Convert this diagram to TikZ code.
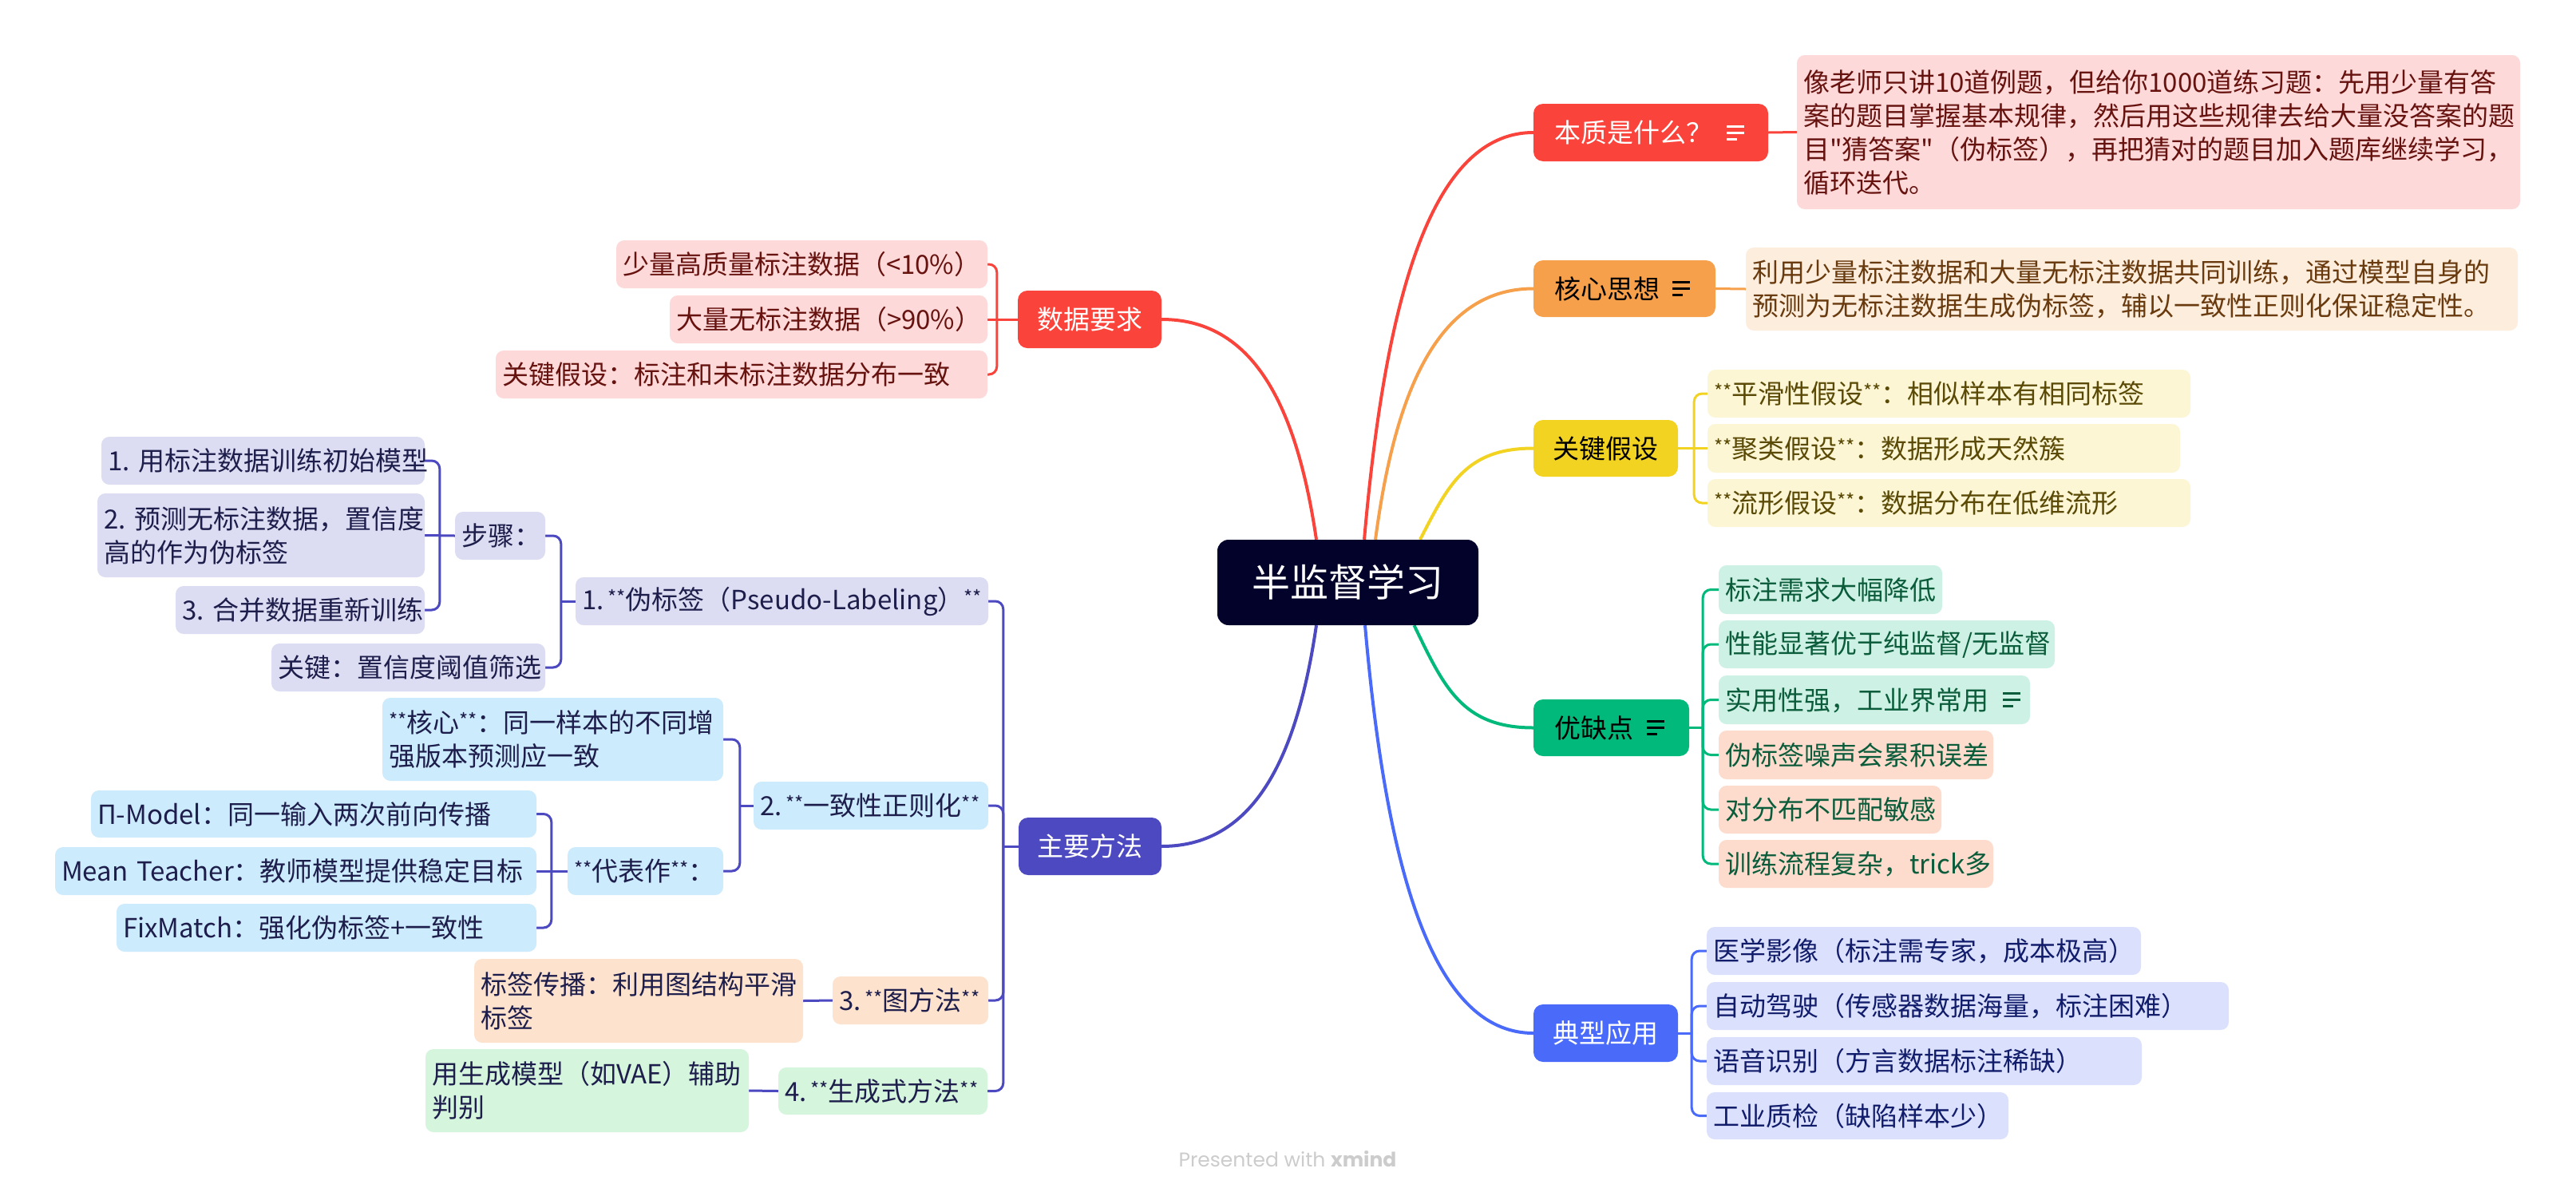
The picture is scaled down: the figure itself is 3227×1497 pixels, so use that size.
\documentclass[tikz,border=0pt]{standalone}
\usepackage{fontspec}
\setmainfont{Noto Sans CJK SC}
\newfontfamily\qfont{Noto Sans CJK SC}[Ligatures=TeXOff]
\newfontfamily\wmfont{Poppins}
\usetikzlibrary{calc}
\pgfdeclarelayer{background}
\pgfsetlayers{background,main}
\hyphenpenalty=10000
\exhyphenpenalty=10000
\definecolor{rootC}{HTML}{02022A}
\definecolor{redM}{HTML}{FA443B}
\definecolor{redL}{HTML}{FED9D9}
\definecolor{redT}{HTML}{66120F}
\definecolor{orM}{HTML}{F6A04C}
\definecolor{orL}{HTML}{FDEDDD}
\definecolor{orT}{HTML}{683A0E}
\definecolor{yeM}{HTML}{F2D322}
\definecolor{yeL}{HTML}{FCF6D4}
\definecolor{yeT}{HTML}{5A4A06}
\definecolor{grM}{HTML}{00B97A}
\definecolor{grL}{HTML}{CDF1E4}
\definecolor{grS}{HTML}{FDDBCD}
\definecolor{grT}{HTML}{0A5C3B}
\definecolor{blM}{HTML}{4A6BFA}
\definecolor{blL}{HTML}{DBE1FD}
\definecolor{blT}{HTML}{111C6B}
\definecolor{inM}{HTML}{4C49C1}
\definecolor{inA}{HTML}{DCDCF2}
\definecolor{inB}{HTML}{CCEBFC}
\definecolor{inC}{HTML}{FDE3CE}
\definecolor{inD}{HTML}{D5F5DC}
\definecolor{inT}{HTML}{1E1E4C}
\definecolor{wmC}{HTML}{CCCCCC}
\newcommand\stru{\vrule width0pt height.88em depth.12em\relax}
\newcommand\sstar{\raisebox{6pt}{\fontsize{24}{24}\selectfont **}}
\newcommand\sq{{\qfont"}}
% box: [pad]{name}{x1}{y1}{x2}{y2}{style}{text}
\newcommand\bx[8][8]{%
  \pgfmathsetmacro\bw{#5-#3-2*#1}%
  \pgfmathsetmacro\bh{#6-#4}%
  \pgfmathsetmacro\bcx{(#3+#5)/2}%
  \pgfmathsetmacro\bcy{(#4+#6)/2}%
  \node[#7, inner xsep=#1pt, text width=\bw pt, minimum height=\bh pt] (#2) at (\bcx,\bcy) {#8};}
\newcommand\ico[3]{%
  \draw[#3, line width=3pt] ([xshift=-#2pt, yshift=8pt]#1.east) -- ++(22,0)
     ([xshift=-#2pt]#1.east) -- ++(22,0)
     ([xshift=-#2pt, yshift=-8pt]#1.east) -- ++(13,0);}
\newcommand\mcurve[6]{%
  \draw[#1, line width=4pt] let \p1=(#2), \p2=(#3) in (\p1) .. controls ({\x1+#4*(\x2-\x1)},{\y1+#5*(\y2-\y1)}) and ({\x1+#6*(\x2-\x1)},{\y2}) .. (\p2);}
\begin{document}
\begin{tikzpicture}[x=1pt,y=-1pt,
  box/.style={rounded corners=10pt, inner ysep=0pt, align=left, font=\fontsize{33}{42}\selectfont},
  topic/.style={rounded corners=12pt, inner ysep=0pt, align=left, font=\fontsize{33}{42}\selectfont},
  redbox/.style={box, fill=redL, text=redT},
  orbox/.style={box, fill=orL, text=orT},
  yebox/.style={box, fill=yeL, text=yeT},
  grbox/.style={box, fill=grL, text=grT},
  gsbox/.style={box, fill=grS, text=grT},
  blbox/.style={box, fill=blL, text=blT},
  inAbox/.style={box, fill=inA, text=inT},
  inBbox/.style={box, fill=inB, text=inT},
  inCbox/.style={box, fill=inC, text=inT},
  inDbox/.style={box, fill=inD, text=inT},
  subline/.style={line width=3pt, rounded corners=10pt},
  ]
\useasboundingbox (0,0) rectangle (3227,1497);
\begin{pgfonlayer}{background}
\fill[white] (0,0) rectangle (3227,1497);
\end{pgfonlayer}

% root
\node[fill=rootC, text=white, rounded corners=14pt, inner sep=0pt, minimum width=327pt, minimum height=107pt, font=\fontsize{48}{58}\selectfont] (root) at (1688.5,729.5) {\stru 半监督学习};

% main topics
\bx[26]{ess}{1921}{130}{2215}{202}{topic, fill=redM, text=white}{\stru 本质是什么？}
\bx[26]{core}{1921}{326}{2149}{397}{topic, fill=orM, text=black}{\stru 核心思想}
\bx[24]{assume}{1921}{526}{2102}{597}{topic, fill=yeM, text=black}{\stru 关键假设}
\bx[26]{pros}{1921}{876}{2116}{947}{topic, fill=grM, text=black}{\stru 优缺点}
\bx[24]{app}{1921}{1258}{2102}{1330}{topic, fill=blM, text=white}{\stru 典型应用}
\bx[24]{data}{1275}{364}{1455}{436}{topic, fill=redM, text=white}{\stru 数据要求}
\bx[23]{meth}{1276}{1024}{1455}{1096}{topic, fill=inM, text=white}{\stru 主要方法}
\ico{ess}{52}{white}
\ico{core}{54}{black}
\ico{pros}{53}{black}

% right side children
\bx{essd}{2251}{69}{3157}{262}{redbox}{\stru 像老师只讲10道例题，但给你1000道练习题：先用少量有答\\\stru 案的题目掌握基本规律，然后用这些规律去给大量没答案的题\\\stru 目\sq 猜答案\sq（伪标签），再把猜对的题目加入题库继续学习，\\\stru 循环迭代。}
\bx{cored}{2187}{310}{3154}{414}{orbox}{\stru 利用少量标注数据和大量无标注数据共同训练，通过模型自身的\\\stru 预测为无标注数据生成伪标签，辅以一致性正则化保证稳定性。}
\bx{a1}{2139}{463}{2744}{523}{yebox}{\stru \sstar 平滑性假设\sstar：相似样本有相同标签}
\bx{a2}{2139}{531}{2731}{592}{yebox}{\stru \sstar 聚类假设\sstar：数据形成天然簇}
\bx{a3}{2139}{600}{2744}{660}{yebox}{\stru \sstar 流形假设\sstar：数据分布在低维流形}
\bx{p1}{2153}{708}{2433}{769}{grbox}{\stru 标注需求大幅降低}
\bx{p2}{2153}{777}{2574}{837}{grbox}{\stru 性能显著优于纯监督/无监督}
\bx{p3}{2153}{846}{2543}{907}{grbox}{\stru 实用性强，工业界常用}
\bx{p4}{2153}{915}{2497}{976}{gsbox}{\stru 伪标签噪声会累积误差}
\bx{p5}{2153}{984}{2432}{1044}{gsbox}{\stru 对分布不匹配敏感}
\bx{p6}{2153}{1052}{2497}{1112}{gsbox}{\stru 训练流程复杂，trick多}
\ico{p3}{34}{grT}
\bx{t1}{2138}{1161}{2682}{1221}{blbox}{\stru 医学影像（标注需专家，成本极高）}
\bx{t2}{2138}{1230}{2792}{1290}{blbox}{\stru 自动驾驶（传感器数据海量，标注困难）}
\bx{t3}{2138}{1299}{2683}{1359}{blbox}{\stru 语音识别（方言数据标注稀缺）}
\bx{t4}{2138}{1368}{2516}{1427}{blbox}{\stru 工业质检（缺陷样本少）}

% left side children
\bx{d1}{772}{301}{1237}{361}{redbox}{\stru 少量高质量标注数据（<10\%）}
\bx{d2}{839}{370}{1237}{430}{redbox}{\stru 大量无标注数据（>90\%）}
\bx{d3}{621}{439}{1237}{499}{redbox}{\stru 关键假设：标注和未标注数据分布一致}

\bx{m1}{721}{723}{1238}{783}{inAbox}{\stru 1.\hspace{5pt}\sstar 伪标签（Pseudo-Labeling）\sstar}
\bx{m1s}{570}{641}{683}{701}{inAbox}{\stru 步骤：}
\bx{m1k}{340}{806}{683}{866}{inAbox}{\stru 关键：置信度阈值筛选}
\bx{s1}{127}{547}{532}{607}{inAbox}{\stru 1.~用标注数据训练初始模型}
\bx{s2}{122}{618}{532}{723}{inAbox}{\stru 2.~预测无标注数据，置信度\\\stru 高的作为伪标签}
\bx{s3}{220}{734}{532}{794}{inAbox}{\stru 3.~合并数据重新训练}
\bx{m2}{944}{979}{1238}{1039}{inBbox}{\stru 2.\hspace{5pt}\sstar 一致性正则化\sstar}
\bx{m2c}{479}{874}{906}{978}{inBbox}{\stru \sstar 核心\sstar：同一样本的不同增\\\stru 强版本预测应一致}
\bx{m2r}{711}{1061}{906}{1121}{inBbox}{\stru \sstar 代表作\sstar：}
\bx{r1}{114}{990}{672}{1049}{inBbox}{\stru Π-Model：同一输入两次前向传播}
\bx{r2}{69}{1061}{672}{1121}{inBbox}{\stru Mean~Teacher：教师模型提供稳定目标}
\bx{r3}{146}{1132}{672}{1192}{inBbox}{\stru FixMatch：强化伪标签+一致性}
\bx{m3}{1043}{1223}{1238}{1283}{inCbox}{\stru 3.\hspace{5pt}\sstar 图方法\sstar}
\bx{m3c}{594}{1201}{1006}{1306}{inCbox}{\stru 标签传播：利用图结构平滑\\\stru 标签}
\bx{m4}{975}{1337}{1237}{1396}{inDbox}{\stru 4.\hspace{5pt}\sstar 生成式方法\sstar}
\bx{m4c}{533}{1314}{938}{1418}{inDbox}{\stru 用生成模型（如VAE）辅助\\\stru 判别}

\node[font=\wmfont\fontsize{25}{30}\selectfont, text=wmC, inner sep=0pt] (wm) at (1613,1452) {Presented with \textbf{xmind}};

% connectors
\coordinate (sEss) at ([xshift=20.5pt]root.north);
\coordinate (sCore) at ([xshift=34.5pt]root.north);
\coordinate (sAss) at ([xshift=90.5pt]root.north);
\coordinate (sData) at ([xshift=-39.5pt]root.north);
\coordinate (sMeth) at ([xshift=-39.5pt]root.south);
\coordinate (sApp) at ([xshift=21.5pt]root.south);
\coordinate (sPros) at ([xshift=83pt]root.south);
\coordinate (aB) at ([xshift=20pt]assume.east);
\coordinate (pB) at ([xshift=17pt]pros.east);
\coordinate (apB) at ([xshift=17pt]app.east);
\coordinate (dB) at ([xshift=-26pt]data.west);
\coordinate (mB) at ([xshift=-19pt]meth.west);
\coordinate (m1B) at ([xshift=-18pt]m1.west);
\coordinate (sB) at ([xshift=-19pt]m1s.west);
\coordinate (m2B) at ([xshift=-17pt]m2.west);
\coordinate (rB) at ([xshift=-20pt]m2r.west);

\begin{pgfonlayer}{background}
\mcurve{redM}{sEss}{ess.west}{0.12}{0.57}{0.38}
\mcurve{orM}{sCore}{core.west}{0.12}{0.57}{0.38}
\mcurve{yeM}{sAss}{assume.west}{0.25}{0.6}{0.4}
\mcurve{redM}{sData}{data.east}{0.12}{0.57}{0.38}
\mcurve{inM}{sMeth}{meth.east}{0.12}{0.57}{0.38}
\mcurve{blM}{sApp}{app.west}{0.12}{0.57}{0.38}
\mcurve{grM}{sPros}{pros.west}{0.25}{0.6}{0.4}

\draw[redM, subline] (ess.east) -- (essd.west);
\draw[orM, subline] (core.east) -- (cored.west);

\draw[yeM, subline] (assume.east) -- (a2.west);
\draw[yeM, subline] (aB) -- (aB |- a1.west) -- (a1.west);
\draw[yeM, subline] (aB) -- (aB |- a3.west) -- (a3.west);

\draw[grM, subline] (pros.east) -- (pB);
\foreach \c in {p1,p2,p3,p4,p5,p6}
  \draw[grM, subline] (pB) -- (pB |- \c.west) -- (\c.west);

\draw[blM, subline] (app.east) -- (apB);
\foreach \c in {t1,t2,t3,t4}
  \draw[blM, subline] (apB) -- (apB |- \c.west) -- (\c.west);

\draw[redM, subline] (data.west) -- (d2.east);
\draw[redM, subline] (dB) -- (dB |- d1.east) -- (d1.east);
\draw[redM, subline] (dB) -- (dB |- d3.east) -- (d3.east);

\draw[inM, subline] (meth.west) -- (mB);
\foreach \c in {m1,m2,m3,m4}
  \draw[inM, subline] (mB) -- (mB |- \c.east) -- (\c.east);

\draw[inM, subline] (m1.west) -- (m1B);
\foreach \c in {m1s,m1k}
  \draw[inM, subline] (m1B) -- (m1B |- \c.east) -- (\c.east);

\draw[inM, subline] (m1s.west) -- (s2.east);
\draw[inM, subline] (sB) -- (sB |- s1.east) -- (s1.east);
\draw[inM, subline] (sB) -- (sB |- s3.east) -- (s3.east);

\draw[inM, subline] (m2.west) -- (m2B);
\foreach \c in {m2c,m2r}
  \draw[inM, subline] (m2B) -- (m2B |- \c.east) -- (\c.east);

\draw[inM, subline] (m2r.west) -- (r2.east);
\draw[inM, subline] (rB) -- (rB |- r1.east) -- (r1.east);
\draw[inM, subline] (rB) -- (rB |- r3.east) -- (r3.east);

\draw[inM, subline] (m3.west) -- (m3c.east);
\draw[inM, subline] (m4.west) -- (m4c.east);
\end{pgfonlayer}
\end{tikzpicture}
\end{document}
